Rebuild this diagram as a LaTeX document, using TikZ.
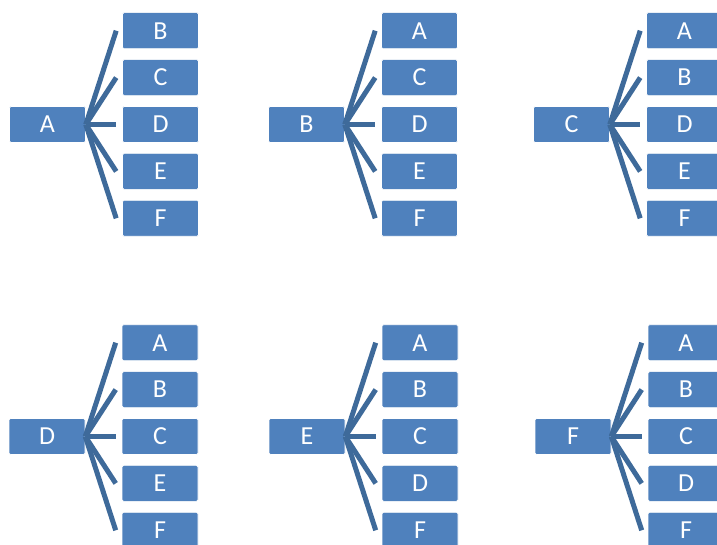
\documentclass[tikz,border=0pt]{standalone}
\usepackage{fontspec}
\setmainfont{Carlito}
\usetikzlibrary{calc}
\definecolor{boxblue}{HTML}{4F81BD}
\definecolor{linkblue}{HTML}{3E6A9A}
\tikzset{
  box/.style={rectangle, fill=boxblue, draw=white, line width=0.6pt,
    rounded corners=1.5pt, minimum width=76pt, minimum height=36pt,
    inner sep=0pt, text=white, font=\fontsize{26}{26}\selectfont},
  link/.style={draw=linkblue, line width=5pt}
}
% one fan: root box on the left, five child boxes to its right
\newcommand{\fangroup}[5]{%
  \node[box] (#1r) at (#2,#3) {#4};
  \foreach \lbl [count=\i] in {#5} {
    \node[box] (#1c\i) at ($(#1r)+(113,{(\i-3)*46.9})$) {\lbl};
    \draw[link] (#1r.east) -- ($(#1c\i.west)+(-6,0)$);
  }%
}
\begin{document}
\begin{tikzpicture}[x=1pt,y=-1pt]
  \clip (0,0) rectangle (717,545);
  \fill[white] (0,0) rectangle (717,545);
  \fangroup{ga}{47.5}{124.5}{A}{B,C,D,E,F}
  \fangroup{gb}{306.5}{124.5}{B}{A,C,D,E,F}
  \fangroup{gc}{571.5}{124.5}{C}{A,B,D,E,F}
  \fangroup{gd}{47}{436.5}{D}{A,B,C,E,F}
  \fangroup{ge}{307}{436.5}{E}{A,B,C,D,F}
  \fangroup{gf}{573}{436.5}{F}{A,B,C,D,F}
\end{tikzpicture}
\end{document}
